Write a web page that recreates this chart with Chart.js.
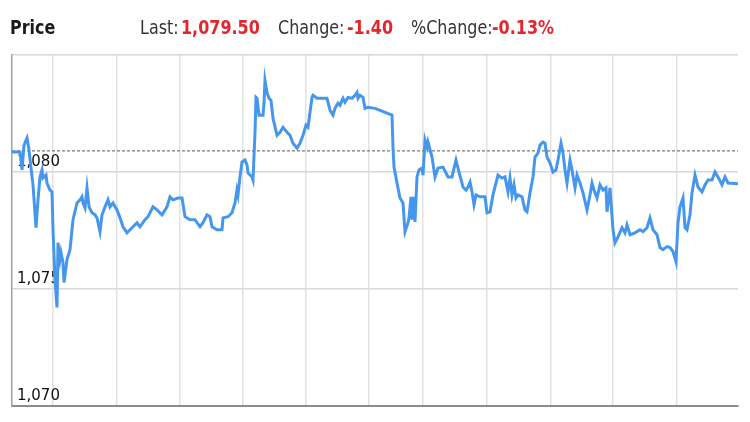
<!DOCTYPE html>
<html>
<head>
<meta charset="utf-8">
<script src="https://cdn.jsdelivr.net/npm/chart.js@4.4.1/dist/chart.umd.min.js"></script>
<style>
    body { margin: 0; background: #fff; }
    #wrap { position: relative; width: 750px; height: 422px; }
    #priceChart { position: absolute; left: 0; top: 0; }
    .hd {
        position: absolute;
        top: 18px;
        font-family: 'DejaVu Sans', sans-serif;
        font-size: 19px;
        line-height: 19px;
        white-space: nowrap;
        transform: scaleX(0.84);
        transform-origin: left center;
        color: #333;
    }
    .hd.title { color: #1a1a1a; font-weight: bold; }
    .hd.red { color: #e4262c; font-weight: bold; }
</style>
</head>
<body>
<div id="wrap">
    <canvas id="priceChart" width="750" height="422"></canvas>
    <span class="hd title" style="left:10px">Price</span>
    <span class="hd" style="left:140px">Last:</span>
    <span class="hd red" style="left:181px">1,079.50</span>
    <span class="hd" style="left:278px">Change:</span>
    <span class="hd red" style="left:347px">-1.40</span>
    <span class="hd" style="left:411px">%Change:</span>
    <span class="hd red" style="left:492px">-0.13%</span>
</div>
<script>
// Time along the session (minutes from the open) and traded price
const minutes = [
    0, 8, 10, 12, 15, 17, 19, 21, 24, 26, 28, 30, 31, 34, 35, 38, 40, 41, 43, 45,
    46, 48, 49, 51, 52, 55, 58, 61, 65, 68, 70, 71, 73, 75, 77, 80, 83, 85, 88, 90,
    93, 96, 98, 101, 105, 108, 111, 115, 118, 121, 125, 128, 133, 136, 141, 145, 150, 155, 158, 161,
    166, 170, 173, 178, 183, 188, 191, 195, 198, 200, 205, 210, 211, 216, 220, 223, 225, 226, 228, 230,
    233, 235, 236, 238, 240, 241, 243, 244, 245, 247, 251, 252, 253, 255, 257, 259, 261, 265, 268, 271,
    275, 278, 281, 285, 288, 291, 294, 296, 300, 301, 305, 308, 311, 315, 318, 321, 323, 326, 328, 331,
    333, 336, 340, 343, 345, 346, 348, 351, 353, 356, 363, 380, 381, 382, 385, 388, 391, 393, 396, 397,
    399, 400, 401, 403, 405, 407, 410, 411, 413, 415, 416, 420, 423, 426, 431, 436, 440, 444, 447, 451,
    454, 456, 458, 460, 462, 464, 468, 473, 475, 478, 481, 483, 486, 490, 493, 496, 498, 500, 502, 504,
    506, 510, 513, 515, 518, 521, 523, 526, 528, 531, 533, 535, 538, 541, 544, 546, 549, 551, 553, 555,
    558, 560, 563, 565, 568, 571, 575, 578, 580, 582, 585, 588, 591, 594, 595, 598, 601, 603, 606, 610,
    613, 615, 618, 623, 628, 631, 635, 638, 641, 645, 648, 651, 655, 658, 661, 664, 666, 668, 671, 673,
    675, 678, 680, 683, 686, 690, 693, 696, 700, 703, 706, 710, 713, 716, 726
];
const prices = [
    1080.85, 1080.85, 1080.09, 1081.15, 1081.45, 1080.94, 1080.17, 1079.45, 1077.62, 1078.81,
    1079.79, 1080.09, 1079.74, 1079.87, 1079.53, 1079.23, 1079.15, 1077.53, 1075.40, 1074.21,
    1076.98, 1076.26, 1076.55, 1076.13, 1075.28, 1076.26, 1076.68, 1077.96, 1078.68, 1078.81,
    1078.94, 1078.68, 1078.47, 1079.32, 1078.51, 1078.26, 1078.17, 1078.04, 1077.45, 1078.17,
    1078.51, 1078.81, 1078.51, 1078.68, 1078.38, 1078.04, 1077.66, 1077.40, 1077.53, 1077.66,
    1077.83, 1077.66, 1077.96, 1078.09, 1078.51, 1078.38, 1078.17, 1078.51, 1078.94, 1078.81,
    1078.89, 1078.89, 1078.09, 1077.96, 1077.96, 1077.66, 1077.83, 1078.17, 1078.09, 1077.66,
    1077.53, 1077.53, 1078.04, 1078.09, 1078.26, 1078.68, 1079.23, 1079.02, 1079.79, 1080.43,
    1080.51, 1080.30, 1079.96, 1079.87, 1079.79, 1079.66, 1081.70, 1083.19, 1083.15, 1082.43,
    1082.43, 1082.94, 1083.91, 1083.40, 1083.15, 1083.06, 1082.30, 1081.57, 1081.70, 1081.91,
    1081.70, 1081.57, 1081.23, 1081.02, 1081.23, 1081.57, 1082.00, 1081.91, 1083.19, 1083.28,
    1083.15, 1083.15, 1083.15, 1083.15, 1082.64, 1082.43, 1082.72, 1082.94, 1082.85, 1083.15,
    1082.98, 1083.19, 1083.15, 1083.28, 1083.40, 1083.15, 1083.28, 1083.19, 1082.72, 1082.77,
    1082.72, 1082.43, 1081.06, 1080.21, 1079.53, 1078.89, 1078.68, 1077.45, 1077.83, 1078.04,
    1078.94, 1077.96, 1078.94, 1077.87, 1079.79, 1080.09, 1080.17, 1079.87, 1081.36, 1081.06,
    1081.28, 1080.64, 1079.79, 1080.17, 1080.21, 1079.79, 1079.79, 1080.51, 1080.00, 1079.36,
    1079.23, 1079.36, 1079.57, 1079.15, 1078.60, 1079.02, 1078.94, 1078.94, 1078.26, 1078.30,
    1079.02, 1079.36, 1079.87, 1079.74, 1079.79, 1079.15, 1079.74, 1079.02, 1079.45, 1078.89,
    1079.02, 1078.94, 1078.38, 1078.30, 1079.11, 1079.79, 1080.64, 1080.81, 1081.15, 1081.28,
    1081.23, 1080.64, 1080.38, 1080.00, 1080.09, 1080.51, 1081.23, 1080.81, 1080.09, 1079.53,
    1080.51, 1080.09, 1079.32, 1079.87, 1079.53, 1079.11, 1078.38, 1079.02, 1079.53, 1079.23,
    1078.89, 1079.45, 1079.23, 1079.32, 1078.30, 1079.32, 1077.53, 1076.98, 1077.23, 1077.62,
    1077.40, 1077.74, 1077.32, 1077.40, 1077.53, 1077.45, 1077.62, 1078.04, 1077.53, 1077.32,
    1076.77, 1076.68, 1076.81, 1076.77, 1076.60, 1076.17, 1077.83, 1078.51, 1078.89, 1077.62,
    1077.53, 1078.17, 1079.11, 1079.87, 1079.36, 1079.15, 1079.45, 1079.66, 1079.66, 1080.00,
    1079.79, 1079.45, 1079.79, 1079.53, 1079.50
];
// vertical grid positions (minutes) and price axis
const gridMinutes = [41, 105, 168, 231, 294, 357, 411, 475, 539, 601, 665];
const sessionEnd = 726;
const priceMin = 1070;
const priceMax = 1085;
const priceStep = 5;
const prevClose = 1080.90;

const ctx = document.getElementById('priceChart').getContext('2d');
const priceChart = new Chart(ctx, {
    type: 'line',
    data: {
        datasets: [{
            label: 'Price',
            data: minutes.map((m, i) => ({ x: m, y: prices[i] })),
            borderColor: '#4597ee',
            borderWidth: 3,
            pointRadius: 0,
            tension: 0
        }, {
            label: 'Previous close',
            data: [{ x: 0, y: prevClose }, { x: sessionEnd, y: prevClose }],
            borderColor: '#7a7a7a',
            borderWidth: 1.2,
            borderDash: [3, 2],
            pointRadius: 0
        }]
    },
    options: {
        responsive: false,
        animation: false,
        layout: { padding: { left: 12, right: 12, top: 55, bottom: 16 } },
        plugins: {
            legend: { display: false },
            tooltip: { enabled: false }
        },
        scales: {
            x: {
                type: 'linear',
                min: 0,
                max: sessionEnd,
                afterBuildTicks: (scale) => {
                    scale.ticks = gridMinutes.map(v => ({ value: v }));
                },
                afterFit: (scale) => { scale.height = 0; },
                ticks: { display: false },
                grid: { color: '#e2e2e2', lineWidth: 1.5, drawTicks: false },
                border: { color: '#8c8c8c', width: 2 }
            },
            y: {
                min: priceMin,
                max: priceMax,
                afterFit: (scale) => { scale.width = 0; },
                ticks: {
                    stepSize: priceStep,
                    mirror: true,
                    padding: 5,
                    labelOffset: -10,
                    color: '#111',
                    font: { family: 'DejaVu Sans', size: 15 },
                    callback: (v) => v === priceMax ? '' : v.toLocaleString('en-US')
                },
                grid: { color: '#d8d8d8', lineWidth: 1.5, drawTicks: false },
                border: { color: '#a0a0a0', width: 1.5 }
            }
        }
    }
});
</script>
</body>
</html>
